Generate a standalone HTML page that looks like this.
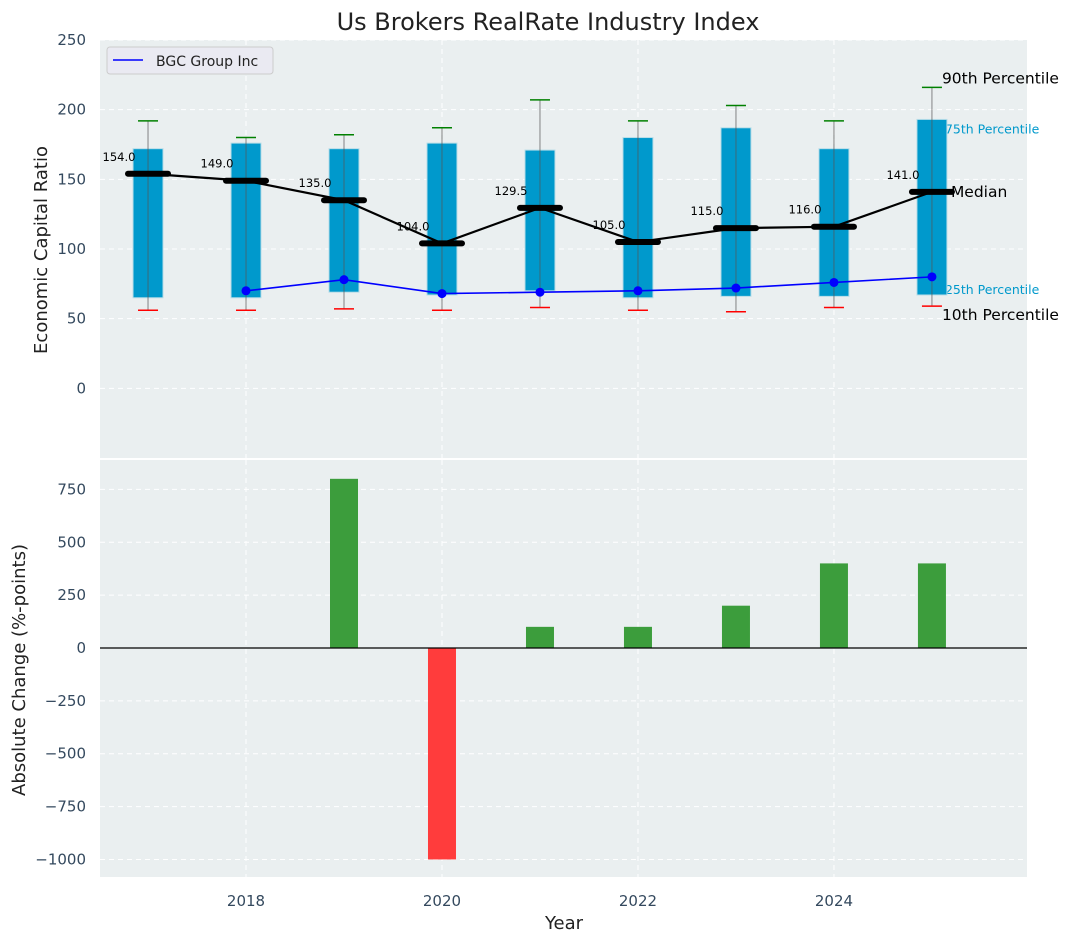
<!DOCTYPE html>
<html><head><meta charset="utf-8"><style>
body{margin:0;background:#fff;font-family:"Liberation Sans","DejaVu Sans",sans-serif}
svg text{font-family:"DejaVu Sans","Liberation Sans",sans-serif}
</style></head><body>
<svg id="c" width="1077" height="942" xmlns="http://www.w3.org/2000/svg"></svg>
<script>
const years=[2017,2018,2019,2020,2021,2022,2023,2024,2025];
const p10=[56,56,57,56,58,56,55,58,59];
const p25=[65,65,69,67,70,65,66,66,67];
const medians=[154,149,135,104,129.5,105,115,116,141];
const p75=[172,176,172,176,171,180,187,172,193];
const p90=[192,180,182,187,207,192,203,192,216];
const bgcYears=[2018,2019,2020,2021,2022,2023,2024,2025];
const bgcValues=[70,78,68,69,70,72,76,80];
const changeYears=[2018,2019,2020,2021,2022,2023,2024,2025];
const changes=[0,800,-1000,100,100,200,400,400];
const topTicks=[0,50,100,150,200,250];
const botTicks=[-1000,-750,-500,-250,0,250,500,750];
const xTicks=[2018,2020,2022,2024];

const svg=document.getElementById('c');
const NS='http://www.w3.org/2000/svg';
function el(t,a,p){const e=document.createElementNS(NS,t);for(const k in a)e.setAttribute(k,a[k]);(p||svg).appendChild(e);return e;}
const L=100,R=1027;
const x=v=>L+(v-2016.51)/(2025.97-2016.51)*(R-L);
const T0=40,T1=458;const yT=v=>T1-(v+50)/300*(T1-T0);
const B0=460,B1=877;const yB=v=>B0+(889-v)/(889+1083)*(B1-B0);

let g=el('rect',{x:L,y:T0,width:R-L,height:T1-T0,fill:'#eaeff0'});

g=el('rect',{x:L,y:B0,width:R-L,height:B1-B0,fill:'#eaeff0'});


topTicks.forEach(t=>{const yy=yT(t);
 el('line',{x1:L,x2:R,y1:yy,y2:yy,stroke:'#fff','stroke-dasharray':'5,4','stroke-width':1});
 const tx=el('text',{x:86,y:yy+5,'text-anchor':'end','font-size':15,fill:'#34495e'});tx.textContent=t;
 });
botTicks.forEach(t=>{const yy=yB(t);
 el('line',{x1:L,x2:R,y1:yy,y2:yy,stroke:'#fff','stroke-dasharray':'5,4','stroke-width':1});
 const tx=el('text',{x:86,y:yy+5,'text-anchor':'end','font-size':15,fill:'#34495e'});tx.textContent=t<0?'\u2212'+(-t):t;
 });
xTicks.forEach(t=>{const xx=x(t);
 el('line',{x1:xx,x2:xx,y1:T0,y2:T1,stroke:'#fff','stroke-dasharray':'5,4'});
 el('line',{x1:xx,x2:xx,y1:B0,y2:B1,stroke:'#fff','stroke-dasharray':'5,4'});
 const tx=el('text',{x:xx,y:906,'text-anchor':'middle','font-size':15,fill:'#34495e'});tx.textContent=t;
 });

const li=years.length-1,ax=x(years[li]);
function ann(v,label,col,fs,dx,dy){const t=el('text',{x:ax+dx,y:yT(v)+dy,'font-size':fs,fill:col});t.textContent=label;
 }
// cyan labels drawn behind boxes
ann(p75[li],'75th Percentile','#0099cc',12.5,13,14);
ann(p25[li],'25th Percentile','#0099cc',12.5,13,-1);

years.forEach((yr,i)=>{const cx=x(yr);
 const b=el('rect',{x:cx-15,y:yT(p75[i]),width:30,height:yT(p25[i])-yT(p75[i]),fill:'#0099cc',stroke:'#b8dde8','stroke-width':1});
 
 el('line',{x1:cx,x2:cx,y1:yT(p90[i]),y2:yT(p10[i]),stroke:'#555','stroke-width':1,opacity:0.7});
 el('line',{x1:cx-10,x2:cx+10,y1:yT(p90[i]),y2:yT(p90[i]),stroke:'green','stroke-width':1.5});
 el('line',{x1:cx-10,x2:cx+10,y1:yT(p10[i]),y2:yT(p10[i]),stroke:'red','stroke-width':1.5});
});
el('polyline',{points:years.map((yr,i)=>x(yr)+','+yT(medians[i])).join(' '),fill:'none',stroke:'#000','stroke-width':2.2});
years.forEach((yr,i)=>{const cx=x(yr),yy=yT(medians[i]);
 const m=el('line',{x1:cx-20,x2:cx+20,y1:yy,y2:yy,stroke:'#000','stroke-width':6,'stroke-linecap':'round'});
 
 const t=el('text',{x:cx-29,y:yy-13,'text-anchor':'middle','font-size':11.5,fill:'#000'});t.textContent=medians[i].toFixed(1);
 });
el('polyline',{points:bgcYears.map((yr,i)=>x(yr)+','+yT(bgcValues[i])).join(' '),fill:'none',stroke:'blue','stroke-width':1.6});
bgcYears.forEach((yr,i)=>{const p=el('circle',{cx:x(yr),cy:yT(bgcValues[i]),r:4.5,fill:'blue'});
 });
ann(p90[li],'90th Percentile','#000',15.5,10,-4);
ann(medians[li],'Median','#000',15.5,19,5);
ann(p10[li],'10th Percentile','#000',15.5,10,14);

g=el('g',{});
el('rect',{x:107,y:47,width:166,height:27,rx:3,fill:'#eaeaf2',stroke:'#ccc'},g);
el('line',{x1:113,x2:143,y1:60,y2:60,stroke:'blue','stroke-width':1.6},g);
let t=el('text',{x:156,y:66,'font-size':14,fill:'#222'},g);t.textContent='BGC Group Inc';

changeYears.forEach((yr,i)=>{const v=changes[i];if(v===0)return;const cx=x(yr);
 const b=el('rect',{x:cx-14,y:Math.min(yB(v),yB(0)),width:28,height:Math.abs(yB(v)-yB(0)),fill:v>0?'#3c9d3c':'#ff3c3c'});
 });
el('line',{x1:L,x2:R,y1:yB(0),y2:yB(0),stroke:'#000','stroke-width':1.2});

t=el('text',{x:548,y:30,'text-anchor':'middle','font-size':24,fill:'#222'});t.textContent='Us Brokers RealRate Industry Index';

t=el('text',{x:47,y:250,'text-anchor':'middle','font-size':18,fill:'#222',transform:'rotate(-90 47 250)'});t.textContent='Economic Capital Ratio';

t=el('text',{x:25,y:670,'text-anchor':'middle','font-size':18,fill:'#222',transform:'rotate(-90 25 670)'});t.textContent='Absolute Change (%-points)';

t=el('text',{x:564,y:929,'text-anchor':'middle','font-size':18,fill:'#222'});t.textContent='Year';

</script>
</body></html>
